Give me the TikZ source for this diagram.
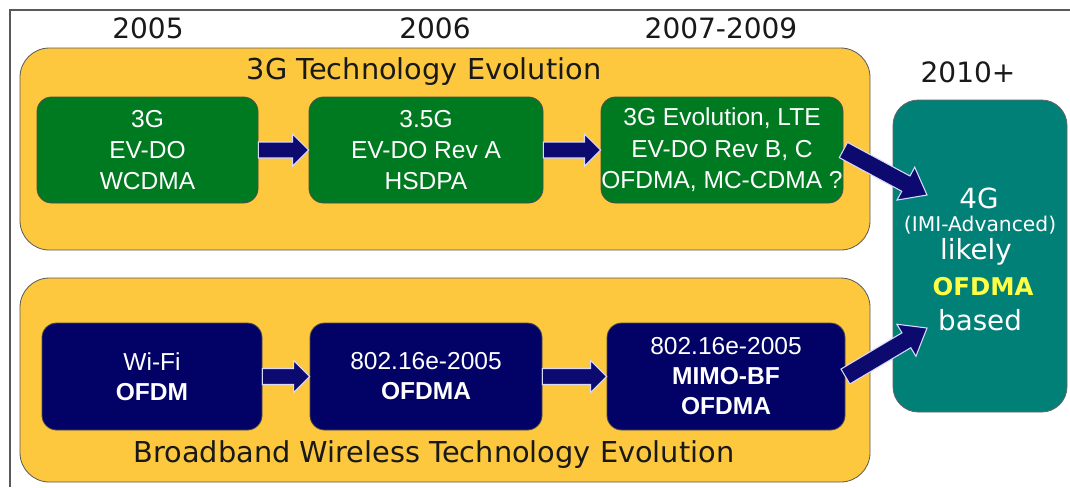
\documentclass[tikz,border=0pt]{standalone}
\usepackage{fontspec}
\setmainfont{DejaVu Sans}
\newfontfamily\boxfont{Liberation Sans}
\usetikzlibrary{calc}
\definecolor{ylw}{RGB}{253,200,62}
\definecolor{grn}{RGB}{0,122,32}
\definecolor{nvy}{RGB}{2,2,102}
\definecolor{teal4g}{RGB}{0,128,118}
\definecolor{arrnavy}{RGB}{12,10,110}
\definecolor{ofdmy}{RGB}{255,255,70}
\tikzset{
  panel/.style={draw=black!65, line width=0.6pt, fill=ylw, rounded corners=22pt, inner sep=0pt},
  gbox/.style={draw=black!70, line width=0.6pt, fill=grn, rounded corners=11pt, text=white,
    align=center, inner sep=0pt, font=\boxfont\fontsize{18.4}{23.5}\selectfont},
  nbox/.style={draw=black!70, line width=0.6pt, fill=nvy, rounded corners=11pt, text=white,
    align=center, inner sep=0pt, font=\boxfont\fontsize{18.4}{22.5}\selectfont},
  tbox/.style={draw=black!60, line width=0.6pt, fill=teal4g, rounded corners=19pt, inner sep=0pt},
  year/.style={font=\fontsize{21}{25}\selectfont, text=black!90, inner sep=0pt},
  ptitle/.style={font=\fontsize{21.6}{26}\selectfont, text=black!90, inner sep=0pt},
  ttext/.style={text=white, inner sep=0pt, font=\fontsize{20.8}{25}\selectfont},
  arrowstyle/.style={draw=white!85!blue, line width=0.8pt, fill=arrnavy, line join=miter}
}
\newcommand\blockarr[5]{% from, to, shaft half width, head half width, head length
  \coordinate (hb) at ($(#2)!#5!(#1)$);
  \draw[arrowstyle] ($(#1)!#3!-90:(#2)$) -- ($(hb)!#3!90:(#1)$) -- ($(hb)!#4!90:(#1)$)
    -- (#2) -- ($(hb)!#4!-90:(#1)$) -- ($(hb)!#3!-90:(#1)$) -- ($(#1)!#3!90:(#2)$) -- cycle;
}
\begin{document}
\begin{tikzpicture}[x=0.75pt, y=-0.75pt]
\useasboundingbox (0,0) rectangle (1070,487);
\fill[white] (0,0) rectangle (1070,487);
\draw[black!65, line width=0.9pt] (10,487) -- (10,10) -- (1070,10);

% years
\node[year] (y1) at (148,28) {2005};
\node[year] (y2) at (435,28) {2006};
\node[year] (y3) at (721,28) {2007-2009};
\node[year] (y4) at (968,72) {2010+};

% panels
\node[panel, minimum width=850*0.75pt, minimum height=202*0.75pt] (p1) at (445,149) {};
\node[panel, minimum width=850*0.75pt, minimum height=204*0.75pt] (p2) at (445,380) {};
\node[ptitle] (t1) at (424,72) {3G Technology Evolution};
\node[ptitle] (t2) at (434,455) {Broadband Wireless Technology Evolution};

% green boxes
\node[gbox, minimum width=221*0.75pt, minimum height=106*0.75pt] (b1) at (147.5,150) {3G\\EV-DO\\WCDMA};
\node[gbox, minimum width=234*0.75pt, minimum height=106*0.75pt] (b2) at (426,150) {3.5G\\EV-DO Rev A\\HSDPA};
\node[gbox, minimum width=242*0.75pt, minimum height=106*0.75pt] (b3) at (722,150) {3G Evolution, LTE\\EV-DO Rev B, C\\OFDMA, MC-CDMA ?};

% navy boxes
\node[nbox, minimum width=220*0.75pt, minimum height=107*0.75pt] (b4) at (152,376.5) {Wi-Fi\\\textbf{OFDM}};
\node[nbox, minimum width=232*0.75pt, minimum height=107*0.75pt] (b5) at (426,376.5) {802.16e-2005\\\textbf{OFDMA}};
\node[nbox, minimum width=238*0.75pt, minimum height=107*0.75pt] (b6) at (726,376.5) {802.16e-2005\\\textbf{MIMO-BF}\\\textbf{OFDMA}};

% 4G box
\node[tbox, minimum width=174*0.75pt, minimum height=312*0.75pt] (g4) at (980,256) {};
\node[ttext] (g4a) at (979,198) {4G};
\node[ttext, font=\fontsize{15.2}{18}\selectfont] (g4b) at (980,225) {(IMI-Advanced)};
\node[ttext] (g4c) at (976,252) {likely};
\node[ttext, text=ofdmy, font=\bfseries\fontsize{18.3}{22}\selectfont] (g4d) at (983,287) {OFDMA};
\node[ttext] (g4e) at (980,320) {based};

% arrow end points inside the 4G box
\coordinate (e1) at (927,195);
\coordinate (e2) at (927,328);

% arrows
\blockarr{b1.east}{b2.west}{6pt}{12pt}{12pt}
\blockarr{b2.east}{b3.west}{6pt}{12pt}{12pt}
\blockarr{b4.east}{b5.west}{6pt}{12pt}{12pt}
\blockarr{b5.east}{b6.west}{6pt}{12pt}{12pt}
\blockarr{b3.east}{e1}{6.5pt}{14pt}{18pt}
\blockarr{b6.east}{e2}{6.5pt}{14pt}{18pt}
\end{tikzpicture}
\end{document}
